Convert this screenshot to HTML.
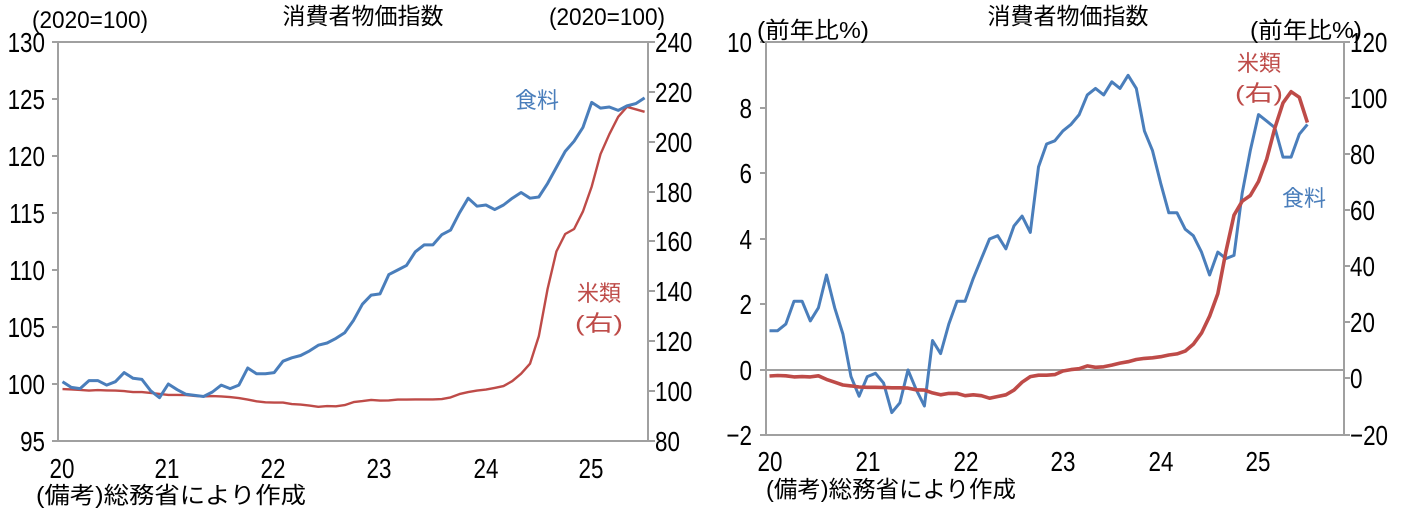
<!DOCTYPE html>
<html><head><meta charset="utf-8">
<style>
html,body{margin:0;padding:0;background:#fff;}
svg{display:block;}
text{font-family:"Liberation Sans","Noto Sans CJK JP",sans-serif;fill:#000;}
.jp{font-family:"Liberation Sans","Noto Sans CJK JP",sans-serif;}
</style></head>
<body>
<svg id="s" width="1402" height="508" viewBox="0 0 1402 508" xmlns="http://www.w3.org/2000/svg">
<!-- LEFT CHART -->
<rect x="58" y="42" width="590" height="399" fill="none" stroke="#a0a0a0" stroke-width="2"/>
<g stroke="#a0a0a0" stroke-width="2">
<line x1="52" y1="42" x2="58" y2="42"/><line x1="52" y1="99" x2="58" y2="99"/><line x1="52" y1="156" x2="58" y2="156"/><line x1="52" y1="213" x2="58" y2="213"/><line x1="52" y1="270" x2="58" y2="270"/><line x1="52" y1="327" x2="58" y2="327"/><line x1="52" y1="384" x2="58" y2="384"/><line x1="52" y1="441" x2="58" y2="441"/>
<line x1="648" y1="42" x2="655" y2="42"/><line x1="648" y1="92" x2="655" y2="92"/><line x1="648" y1="142" x2="655" y2="142"/><line x1="648" y1="192" x2="655" y2="192"/><line x1="648" y1="241" x2="655" y2="241"/><line x1="648" y1="291" x2="655" y2="291"/><line x1="648" y1="341" x2="655" y2="341"/><line x1="648" y1="391" x2="655" y2="391"/><line x1="648" y1="441" x2="655" y2="441"/>
</g>
<g font-size="28" text-anchor="end">
<text class="c" x="45" y="52">130</text><text class="c" x="45" y="109">125</text><text class="c" x="45" y="166">120</text><text class="c" x="45" y="223">115</text><text class="c" x="45" y="280">110</text><text class="c" x="45" y="337">105</text><text class="c" x="45" y="394">100</text><text class="c" x="45" y="451">95</text>
</g>
<g font-size="28">
<text class="c" x="655" y="52">240</text><text class="c" x="655" y="102">220</text><text class="c" x="655" y="152">200</text><text class="c" x="655" y="202">180</text><text class="c" x="655" y="251">160</text><text class="c" x="655" y="301">140</text><text class="c" x="655" y="351">120</text><text class="c" x="655" y="401">100</text><text class="c" x="655" y="451">80</text>
</g>
<g font-size="28" text-anchor="middle">
<text class="c" x="62" y="478">20</text><text class="c" x="167" y="478">21</text><text class="c" x="273" y="478">22</text><text class="c" x="379" y="478">23</text><text class="c" x="486" y="478">24</text><text class="c" x="591" y="478">25</text>
</g>
<text class="jp" x="36" y="503" font-size="23" textLength="270" lengthAdjust="spacingAndGlyphs">(備考)総務省により作成</text>
<text class="jp" x="363" y="24" font-size="23" text-anchor="middle">消費者物価指数</text>
<text class="jp" x="32" y="28" font-size="24" textLength="116" lengthAdjust="spacingAndGlyphs">(2020=100)</text>
<text class="jp" x="549" y="25" font-size="24" textLength="116" lengthAdjust="spacingAndGlyphs">(2020=100)</text>
<text class="jp" x="515" y="108" font-size="22" style="fill:#4a7ebb">食料</text>
<text class="jp" x="577" y="301" font-size="22" style="fill:#be4b48">米類</text>
<text class="jp" x="575" y="331" font-size="22" style="fill:#be4b48" textLength="48" lengthAdjust="spacingAndGlyphs">(右)</text>
<polyline id="lr" fill="none" stroke="#be4b48" stroke-width="2.4" stroke-linejoin="round"/>
<polyline id="lf" fill="none" stroke="#4a7ebb" stroke-width="3" stroke-linejoin="round"/>

<!-- RIGHT CHART -->
<rect x="766" y="42" width="578" height="393" fill="none" stroke="#a0a0a0" stroke-width="2"/>
<line x1="766" y1="370" x2="1344" y2="370" stroke="#a0a0a0" stroke-width="2"/>
<g stroke="#a0a0a0" stroke-width="2">
<line x1="760" y1="42" x2="766" y2="42"/><line x1="760" y1="108" x2="766" y2="108"/><line x1="760" y1="173" x2="766" y2="173"/><line x1="760" y1="239" x2="766" y2="239"/><line x1="760" y1="304" x2="766" y2="304"/><line x1="760" y1="370" x2="766" y2="370"/><line x1="760" y1="435" x2="766" y2="435"/>
<line x1="1344" y1="42" x2="1350" y2="42"/><line x1="1344" y1="98" x2="1350" y2="98"/><line x1="1344" y1="154" x2="1350" y2="154"/><line x1="1344" y1="210" x2="1350" y2="210"/><line x1="1344" y1="266" x2="1350" y2="266"/><line x1="1344" y1="322" x2="1350" y2="322"/><line x1="1344" y1="378" x2="1350" y2="378"/><line x1="1344" y1="435" x2="1350" y2="435"/>
</g>
<g font-size="28" text-anchor="end">
<text class="c" x="752" y="52">10</text><text class="c" x="752" y="118">8</text><text class="c" x="752" y="183">6</text><text class="c" x="752" y="249">4</text><text class="c" x="752" y="314">2</text><text class="c" x="752" y="380">0</text><text class="c" x="752" y="445">−2</text>
</g>
<g font-size="28">
<text class="c" x="1350" y="52">120</text><text class="c" x="1350" y="108">100</text><text class="c" x="1350" y="164">80</text><text class="c" x="1350" y="220">60</text><text class="c" x="1350" y="276">40</text><text class="c" x="1350" y="332">20</text><text class="c" x="1350" y="388">0</text><text class="c" x="1350" y="445">−20</text>
</g>
<g font-size="28" text-anchor="middle">
<text class="c" x="770" y="471">20</text><text class="c" x="868" y="471">21</text><text class="c" x="966" y="471">22</text><text class="c" x="1063" y="471">23</text><text class="c" x="1161" y="471">24</text><text class="c" x="1258" y="471">25</text>
</g>
<text class="jp" x="766" y="497" font-size="23" textLength="250" lengthAdjust="spacingAndGlyphs">(備考)総務省により作成</text>
<text class="jp" x="1068" y="24" font-size="23" text-anchor="middle">消費者物価指数</text>
<text class="jp" x="757" y="38" font-size="23" textLength="112" lengthAdjust="spacingAndGlyphs">(前年比%)</text>
<text class="jp" x="1250" y="38" font-size="23" textLength="112" lengthAdjust="spacingAndGlyphs">(前年比%)</text>
<text class="jp" x="1237" y="71" font-size="22" style="fill:#be4b48">米類</text>
<text class="jp" x="1235" y="101" font-size="22" style="fill:#be4b48" textLength="48" lengthAdjust="spacingAndGlyphs">(右)</text>
<text class="jp" x="1282" y="206" font-size="22" style="fill:#4a7ebb">食料</text>
<polyline id="rf" fill="none" stroke="#4a7ebb" stroke-width="3" stroke-linejoin="round"/>
<polyline id="rr" fill="none" stroke="#be4b48" stroke-width="3.6" stroke-linejoin="round"/>
</svg>
<script>
var food=[100.2,99.7,99.6,100.3,100.3,99.9,100.2,101.0,100.5,100.4,99.4,98.8,
100.0,99.5,99.1,99.0,98.9,99.3,99.9,99.6,99.9,101.4,100.9,100.9,
101.0,102.0,102.3,102.5,102.9,103.4,103.6,104.0,104.5,105.6,107.0,107.8,
107.9,109.6,110.0,110.4,111.6,112.2,112.2,113.1,113.5,115.0,116.3,115.6,
115.7,115.3,115.7,116.3,116.8,116.3,116.4,117.6,119.0,120.4,121.3,122.5,
124.7,124.2,124.3,124.0,124.4,124.6,125.1];
var rice=[100.8,100.7,100.5,100.2,100.4,100.3,100.2,100.0,99.6,99.6,99.3,98.9,
98.5,98.5,98.4,98.1,97.9,98.0,97.9,97.6,97.2,96.6,95.9,95.5,
95.4,95.4,94.8,94.6,94.2,93.7,94.0,93.9,94.4,95.6,96.0,96.5,
96.2,96.3,96.6,96.6,96.7,96.7,96.7,96.8,97.5,98.8,99.6,100.2,
100.6,101.3,102.0,104.0,107.0,111.0,122.0,141.0,156.0,163.0,165.0,172.0,
182.0,195.0,203.0,210.0,214.0,213.0,212.0];
var rf=[1.2,1.2,1.4,2.1,2.1,1.5,1.9,2.9,1.9,1.1,-0.2,-0.8,-0.2,-0.1,-0.4,-1.3,-1.0,0.0,-0.6,-1.1,0.9,0.5,1.4,2.1,2.1,2.8,3.4,4.0,4.1,3.7,4.4,4.7,4.2,6.2,6.9,7.0,7.3,7.5,7.8,8.4,8.6,8.4,8.8,8.6,9.0,8.6,7.3,6.7,5.7,4.8,4.8,4.3,4.1,3.6,2.9,3.6,3.4,3.5,5.4,6.7,7.8,7.6,7.4,6.5,6.5,7.2,7.5];
var rr=[0.7,0.9,0.8,0.4,0.5,0.4,0.8,-0.5,-1.5,-2.5,-2.8,-3.2,-3.3,-3.3,-3.4,-3.5,-3.5,-3.6,-4.2,-4.3,-5.3,-6.0,-5.5,-5.5,-6.3,-6.0,-6.3,-7.2,-6.6,-6.0,-4.3,-1.5,0.5,1.0,1.0,1.2,2.5,3.0,3.3,4.3,3.8,4.0,4.6,5.3,5.8,6.6,7.0,7.2,7.6,8.2,8.6,9.6,12,16,22,30,45,58,63,65,70,78,89,98,102,100,91];
function pts(a,x0,dx,f){return a.map(function(v,i){return (x0+i*dx).toFixed(1)+","+f(v).toFixed(1);}).join(" ");}
document.getElementById("lf").setAttribute("points",pts(food,62.5,8.82,function(v){return 441-(v-95)/35*399;}));
document.getElementById("lr").setAttribute("points",pts(rice,62.5,8.82,function(v){return 441-(v-80)/160*399;}));
document.getElementById("rf").setAttribute("points",pts(rf,769.5,8.15,function(v){return 370-v*32.75;}));
document.getElementById("rr").setAttribute("points",pts(rr,769.5,8.15,function(v){return 378-v*2.807;}));
var ts=document.querySelectorAll("text.c");
for(var i=0;i<ts.length;i++){var L=ts[i].getComputedTextLength();ts[i].setAttribute("textLength",(L*0.8).toFixed(1));ts[i].setAttribute("lengthAdjust","spacingAndGlyphs");}
</script>
</body></html>
